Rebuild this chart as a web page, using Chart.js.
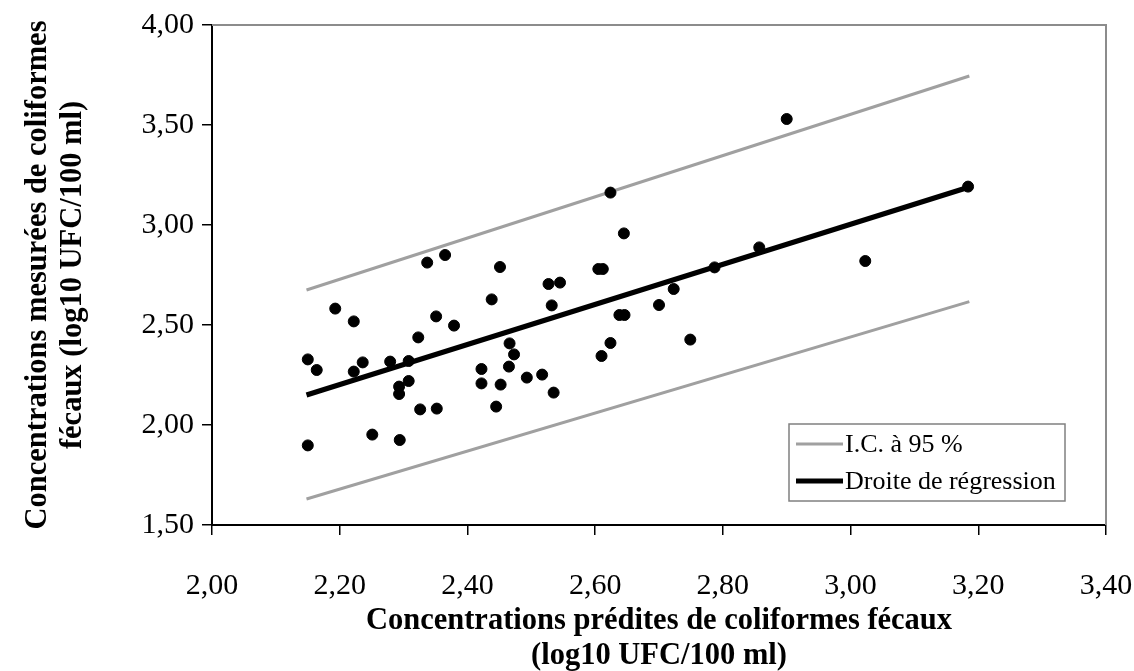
<!DOCTYPE html>
<html><head><meta charset="utf-8">
<script src="https://cdn.jsdelivr.net/npm/chart.js@4/dist/chart.umd.min.js"></script>
<style>html,body{margin:0;padding:0;background:#fff}#wrap{width:1134px;height:671px}</style>
</head><body><div id="wrap"><canvas id="c" width="1134" height="671"></canvas></div>
<script>
// Observed data: predicted (x) vs measured (y), log10 UFC/100 ml
const predicted = [2.150,2.164,2.193,2.222,2.222,2.236,2.279,2.308,2.323,2.337,2.365,2.351,2.379,2.308,2.293,2.293,2.326,2.352,2.251,2.294,2.150,2.451,2.438,2.466,2.473,2.465,2.422,2.422,2.452,2.493,2.445,2.624,2.645,2.605,2.612,2.527,2.545,2.532,2.638,2.646,2.700,2.723,2.787,2.857,2.749,2.624,2.610,2.517,2.535,3.184,3.023,2.900];
const measured  = [2.328,2.275,2.582,2.518,2.267,2.313,2.317,2.320,2.438,2.812,2.850,2.543,2.497,2.220,2.192,2.155,2.078,2.082,1.952,1.925,1.898,2.790,2.628,2.408,2.353,2.292,2.280,2.208,2.202,2.237,2.092,3.162,2.958,2.780,2.780,2.705,2.712,2.598,2.550,2.550,2.600,2.680,2.788,2.888,2.427,2.410,2.345,2.252,2.162,3.192,2.820,3.530];
// Regression line and 95% confidence band endpoints
const lineX = [2.148, 3.186];
const regressionY = [2.15, 3.19];
const ciUpperY = [2.675, 3.745];
const ciLowerY = [1.630, 2.617];
// Axis ticks
const xTicks = [2.0, 2.2, 2.4, 2.6, 2.8, 3.0, 3.2, 3.4];
const yTicks = [1.5, 2.0, 2.5, 3.0, 3.5, 4.0];
const legendLabels = ['I.C. à 95 %', 'Droite de régression'];
const xTitle = ['Concentrations prédites de coliformes fécaux', '(log10 UFC/100 ml)'];
const yTitle = ['Concentrations mesurées de coliformes', 'fécaux (log10 UFC/100 ml)'];

const GREY = '#a0a0a0';
const SERIF = '"Liberation Serif", "Times New Roman", serif';
const fmt = v => Number(v).toFixed(2).replace('.', ',');
const pts = predicted.map((x, i) => ({x, y: measured[i]}));
const toLine = ys => lineX.map((x, i) => ({x, y: ys[i]}));

const frameLegend = {
  id: 'frameLegend',
  beforeDatasetsDraw(chart) {
    const {ctx, chartArea: a} = chart;
    ctx.save();
    ctx.strokeStyle = '#8c8c8c';
    ctx.lineWidth = 2;
    ctx.beginPath();
    ctx.moveTo(a.left, a.top);
    ctx.lineTo(a.right, a.top);
    ctx.lineTo(a.right, a.bottom);
    ctx.stroke();
    ctx.restore();
  },
  afterDraw(chart) {
    const {ctx, chartArea: a} = chart;
    const L = a.right - 317, T = a.bottom - 101, W = 276, H = 77;
    ctx.save();
    ctx.fillStyle = '#fff';
    ctx.fillRect(L, T, W, H);
    ctx.strokeStyle = '#808080';
    ctx.lineWidth = 1.5;
    ctx.strokeRect(L, T, W, H);
    const styles = [{c: GREY, w: 3}, {c: '#000', w: 5}];
    const ys = [T + 20, T + 57];
    ctx.font = '26px ' + SERIF;
    ctx.textBaseline = 'middle';
    legendLabels.forEach((lab, i) => {
      ctx.strokeStyle = styles[i].c;
      ctx.lineWidth = styles[i].w;
      ctx.beginPath();
      ctx.moveTo(L + 7, ys[i]);
      ctx.lineTo(L + 54, ys[i]);
      ctx.stroke();
      ctx.fillStyle = '#000';
      ctx.fillText(lab, L + 56, ys[i] + 1);
    });
    ctx.restore();
  }
};

new Chart(document.getElementById('c'), {
  type: 'scatter',
  data: {
    datasets: [
      {label: 'Observations', data: pts, backgroundColor: '#000', borderColor: '#000', pointRadius: 5.5, pointHoverRadius: 5.5, showLine: false, order: 0},
      {label: legendLabels[1], data: toLine(regressionY), showLine: true, borderColor: '#000', borderWidth: 5, pointRadius: 0, order: 1},
      {label: legendLabels[0], data: toLine(ciUpperY), showLine: true, borderColor: GREY, borderWidth: 3, pointRadius: 0, order: 2},
      {label: legendLabels[0] + ' inf', data: toLine(ciLowerY), showLine: true, borderColor: GREY, borderWidth: 3, pointRadius: 0, order: 2}
    ]
  },
  options: {
    responsive: false,
    animation: false,
    layout: {padding: {left: 0, top: 25, right: 28, bottom: 0}},
    plugins: {legend: {display: false}, tooltip: {enabled: false}, title: {display: false}},
    scales: {
      x: {
        type: 'linear', min: 2.0, max: 3.4,
        afterBuildTicks: s => { s.ticks = xTicks.map(v => ({value: v})); },
        afterFit: s => { s.height = 146; s.paddingLeft = 0; s.paddingRight = 0; },
        grid: {display: true, drawOnChartArea: false, drawTicks: true, tickLength: 10, color: '#000', lineWidth: 1.5},
        border: {display: true, color: '#000', width: 2},
        ticks: {callback: v => fmt(v), color: '#000', padding: 33, maxRotation: 0, font: {family: SERIF, size: 30}},
        title: {display: true, text: xTitle, color: '#000', padding: {top: 0, bottom: -3}, font: {family: SERIF, size: 30.5, weight: 'bold', lineHeight: '35px'}}
      },
      y: {
        type: 'linear', min: 1.5, max: 4.0,
        afterBuildTicks: s => { s.ticks = yTicks.map(v => ({value: v})); },
        afterFit: s => { s.width = 212; s.paddingTop = 0; s.paddingBottom = 0; },
        grid: {display: true, drawOnChartArea: false, drawTicks: true, tickLength: 10, color: '#000', lineWidth: 1.5},
        border: {display: true, color: '#000', width: 2},
        ticks: {callback: v => fmt(v), color: '#000', padding: 8, font: {family: SERIF, size: 30}},
        title: {display: true, text: yTitle, color: '#000', padding: {top: 20.5, bottom: 0}, font: {family: SERIF, size: 30.5, weight: 'bold', lineHeight: '35px'}}
      }
    }
  },
  plugins: [frameLegend]
});
</script>
</body></html>
